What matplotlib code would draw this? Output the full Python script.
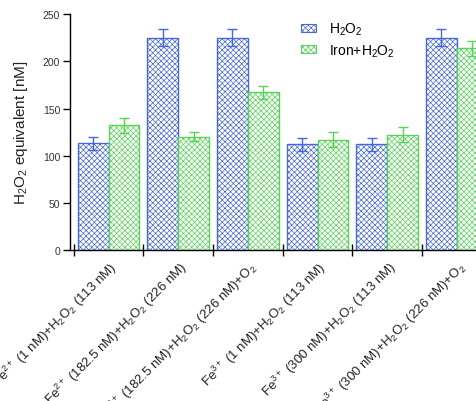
import matplotlib
matplotlib.use("Agg")
import matplotlib.pyplot as plt
import numpy as np
from matplotlib.ticker import FixedLocator

plt.rcParams['font.family'] = ['Liberation Sans', 'DejaVu Sans']
plt.rcParams['mathtext.fontset'] = 'custom'
plt.rcParams['mathtext.rm'] = 'Liberation Sans'
plt.rcParams['mathtext.it'] = 'Liberation Sans:italic'
plt.rcParams['mathtext.bf'] = 'Liberation Sans:bold'
plt.rcParams['hatch.linewidth'] = 0.5

categories = [
    r"Fe$^{2+}$ (1 nM)+H$_2$O$_2$ (113 nM)",
    r"Fe$^{2+}$ (182.5 nM)+H$_2$O$_2$ (226 nM)",
    r"Fe$^{2+}$ (182.5 nM)+H$_2$O$_2$ (226 nM)+O$_2$",
    r"Fe$^{3+}$ (1 nM)+H$_2$O$_2$ (113 nM)",
    r"Fe$^{3+}$ (300 nM)+H$_2$O$_2$ (113 nM)",
    r"Fe$^{3+}$ (300 nM)+H$_2$O$_2$ (226 nM)+O$_2$",
]
h2o2_vals = [113, 225, 225, 112, 112, 225]
h2o2_err = [7, 9, 9, 7, 7, 9]
iron_vals = [132, 120, 167, 117, 122, 214]
iron_err = [8, 5, 7, 8, 8, 8]
series_labels = [r"H$_2$O$_2$", r"Iron+H$_2$O$_2$"]

blue_edge = '#4466e6'
blue_hatch = '#94a6f0'
green_edge = '#55d455'
green_hatch = '#98e698'

fig = plt.figure(figsize=(4.76, 4.02), dpi=100)
ax = fig.add_axes([0.147, 0.376, 0.894, 0.586])

x = np.arange(len(categories))
w = 0.443
b1 = ax.bar(x - w/2, h2o2_vals, w, facecolor='white', edgecolor=blue_edge,
            hatch='xxxxxx', linewidth=1.0, label=series_labels[0])
b2 = ax.bar(x + w/2, iron_vals, w, facecolor='white', edgecolor=green_edge,
            hatch='xxxxxx', linewidth=1.0, label=series_labels[1])
for p in b1:
    p.set_hatchcolor(blue_hatch) if hasattr(p, 'set_hatchcolor') else None
for p in b2:
    p.set_hatchcolor(green_hatch) if hasattr(p, 'set_hatchcolor') else None
ax.errorbar(x - w/2, h2o2_vals, yerr=h2o2_err, fmt='none', ecolor=blue_edge,
            elinewidth=1.0, capsize=3.5, capthick=1.0)
ax.errorbar(x + w/2, iron_vals, yerr=iron_err, fmt='none', ecolor=green_edge,
            elinewidth=1.0, capsize=3.5, capthick=1.0)

ax.set_xlim(-0.555, 5.555)
ax.set_ylim(0, 250)
ax.set_yticks([0, 50, 100, 150, 200, 250])
ax.set_xticks(x)
ax.set_xticklabels(categories, rotation=45, ha='right', rotation_mode='anchor',
                   fontsize=9.5, color='#222222')
ax.xaxis.set_minor_locator(FixedLocator(np.arange(-0.5, 6.0, 1.0)))
ax.tick_params(axis='x', which='major', length=0, pad=6)
ax.tick_params(axis='x', which='minor', length=8, direction='inout', width=1.0)
ax.tick_params(axis='y', which='major', length=5, width=1.0, labelsize=7.5,
               labelcolor='#333333', pad=2)
for s in ['top', 'right']:
    ax.spines[s].set_visible(False)
ax.spines['left'].set_linewidth(1.0)
ax.spines['bottom'].set_linewidth(1.0)
ax.set_ylabel(r"H$_2$O$_2$ equivalent [nM]", fontsize=11, color='#222222', labelpad=9)

leg = ax.legend(loc='upper left', bbox_to_anchor=(301/476, 1 - 22/402),
                bbox_transform=fig.transFigure, frameon=False, fontsize=10,
                handlelength=1.1, handleheight=0.5, labelspacing=0.35,
                handletextpad=0.9, borderpad=0, borderaxespad=0)
for lh in leg.legend_handles:
    lh.set_linewidth(0.8)

fig.savefig('out.png', dpi=100)
